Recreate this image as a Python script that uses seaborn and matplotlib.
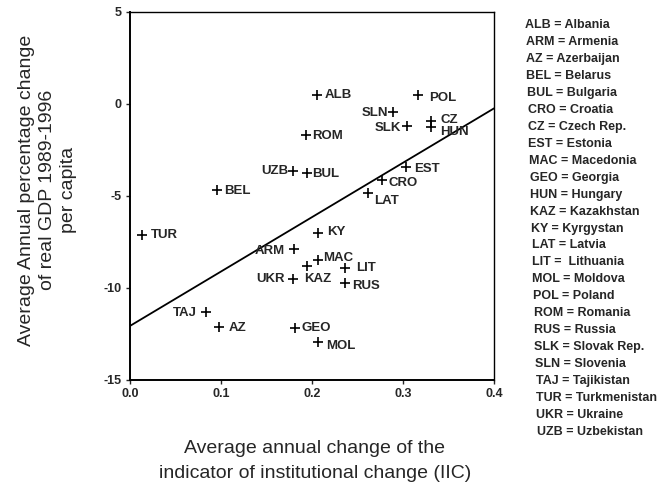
import numpy as np
import pandas as pd
import matplotlib
matplotlib.use("Agg")
import matplotlib.pyplot as plt
import seaborn as sns

# Data
codes = ["ALB", "POL", "SLN", "SLK", "CZ", "HUN", "ROM", "UZB", "BUL", "EST",
         "CRO", "LAT", "BEL", "TUR", "KY", "ARM", "MAC", "KAZ", "UKR", "LIT",
         "RUS", "TAJ", "AZ", "GEO", "MOL"]
iic = [0.206, 0.317, 0.289, 0.304, 0.331, 0.331, 0.193, 0.179, 0.194, 0.303,
       0.277, 0.262, 0.096, 0.0135, 0.207, 0.180, 0.207, 0.194, 0.179, 0.236,
       0.236, 0.083, 0.0975, 0.181, 0.207]
gdp = [0.5, 0.5, -0.45, -1.18, -0.96, -1.26, -1.68, -3.67, -3.74, -3.43,
       -4.12, -4.82, -4.7, -7.1, -7.0, -7.88, -8.48, -8.79, -9.51, -8.91,
       -9.73, -11.32, -12.14, -12.17, -12.92]

key_lines = ["ALB = Albania", "ARM = Armenia", "AZ = Azerbaijan", "BEL = Belarus",
             "BUL = Bulgaria", "CRO = Croatia", "CZ = Czech Rep.", "EST = Estonia",
             "MAC = Macedonia", "GEO = Georgia", "HUN = Hungary", "KAZ = Kazakhstan",
             "KY = Kyrgystan", "LAT = Latvia", "LIT =  Lithuania", "MOL = Moldova",
             "POL = Poland", "ROM = Romania", "RUS = Russia", "SLK = Slovak Rep.",
             "SLN = Slovenia", "TAJ = Tajikistan", "TUR = Turkmenistan",
             "UKR = Ukraine", "UZB = Uzbekistan"]

df = pd.DataFrame({"code": codes, "iic": iic, "gdp": gdp})

# label placement (pixel offsets from marker, alignment)
label_pos = {
    "ALB": (7, 0, "left"), "POL": (11, -3, "left"), "SLN": (-5, -1, "right"),
    "SLK": (-6, -2, "right"), "CZ": (9, 1, "left"), "HUN": (9, -5, "left"),
    "ROM": (6, -1, "left"), "UZB": (-5, 0, "right"), "BUL": (6, -1, "left"),
    "EST": (8, -2, "left"), "CRO": (6, -3, "left"), "LAT": (6, -8, "left"),
    "BEL": (7, -1, "left"), "TUR": (9, 0, "left"), "KY": (9, 1, "left"),
    "ARM": (-9, -2, "right"), "MAC": (5, 2, "left"), "KAZ": (-2, -13, "left"),
    "UKR": (-8, 0, "right"), "LIT": (11, 0, "left"), "RUS": (7, -3, "left"),
    "TAJ": (-9, -1, "right"), "AZ": (10, -1, "left"), "GEO": (7, 0, "left"),
    "MOL": (8, -4, "left"),
}

sns.set_style("ticks")
plt.rcParams["font.family"] = ["Liberation Sans", "DejaVu Sans"]

fig = plt.figure(figsize=(6.58, 4.88), dpi=100)
ax = fig.add_axes([130 / 658, 1 - 380 / 488, 364 / 658, 368.3 / 488])
ax.set_xlim(0, 0.4)
ax.set_ylim(-15, 5)

sns.scatterplot(data=df, x="iic", y="gdp", marker="+", s=60, color="black",
                linewidth=1.2, ax=ax, legend=False)
sns.regplot(data=df, x="iic", y="gdp", scatter=False, ci=None, truncate=False,
            color="black", line_kws={"lw": 1.3}, ax=ax)

for c, x, y in zip(codes, iic, gdp):
    dx, dy, ha = label_pos[c]
    ax.annotate(c, (x, y), xytext=(dx, dy), textcoords="offset pixels",
                ha=ha, va="center", fontsize=9.5, fontweight="bold")

ax.set_xlim(0, 0.4)
ax.set_ylim(-15, 5)
ax.set_xticks([0.0, 0.1, 0.2, 0.3, 0.4])
ax.set_xticklabels(["0.0", "0.1", "0.2", "0.3", "0.4"])
ax.set_yticks([5, 0, -5, -10, -15])
ax.set_yticklabels(["5", "0", "-5", "-10", "-15"])
ax.tick_params(direction="out", length=3, width=1, pad=3, labelsize=9)
for lab in ax.get_xticklabels() + ax.get_yticklabels():
    lab.set_fontweight("bold")

for side in ["left", "bottom"]:
    ax.spines[side].set_linewidth(1.4)
for side in ["top", "right"]:
    ax.spines[side].set_linewidth(1.0)
for sp in ax.spines.values():
    sp.set_color("black")

ax.set_xlabel("Average annual change of the\nindicator of institutional change (IIC)",
              fontsize=14, linespacing=1.6, va="center")
ax.xaxis.set_label_coords(0.508, -0.22)
ax.set_ylabel("Average Annual percentage change\nof real GDP 1989-1996\nper capita",
              fontsize=14, linespacing=1.3, va="center")
ax.yaxis.set_label_coords(-0.226, 0.516)

# country key on the right (scan drifts slightly to the right going down)
for i, line in enumerate(key_lines):
    fig.text((525 + 12 * i / 24) / 658, 1 - (25 + i * 16.96) / 488, line,
             fontsize=9, fontweight="bold", ha="left", va="center")

fig.savefig("out.png", dpi=100)
